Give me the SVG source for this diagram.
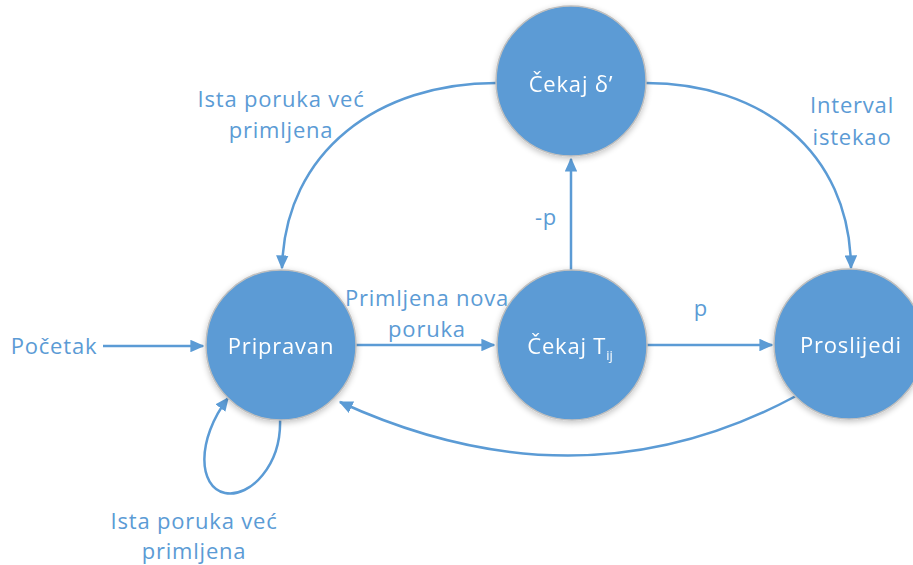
<svg xmlns="http://www.w3.org/2000/svg" width="913" height="565" viewBox="0 0 913 565">
<style>
.node{fill:#5B9BD5;stroke:#BFBFBF;stroke-width:1.5}
.nt{font-family:"Open Sans","Liberation Sans",sans-serif;font-size:22px;letter-spacing:0.8px;fill:#FFFFFF;text-anchor:middle}
.lbl{font-family:"Open Sans","Liberation Sans",sans-serif;font-size:22px;letter-spacing:0.8px;fill:#5B9BD5;text-anchor:middle}
.edge{fill:none;stroke:#5B9BD5;stroke-width:2.5}
</style>
<defs>
<marker id="arr" viewBox="0 0 10 10" refX="9" refY="5" markerWidth="5.6" markerHeight="5" orient="auto" markerUnits="strokeWidth" preserveAspectRatio="none">
<path d="M0,0 L10,5 L0,10 z" fill="#5B9BD5"/>
</marker>
<filter id="sh" x="-20%" y="-20%" width="140%" height="140%">
<feGaussianBlur in="SourceAlpha" stdDeviation="3"/>
<feOffset dx="0" dy="2"/>
<feComponentTransfer><feFuncA type="linear" slope="0.25"/></feComponentTransfer>
<feMerge><feMergeNode/><feMergeNode in="SourceGraphic"/></feMerge>
</filter>
</defs>
<g id="connectors">
<path class="edge" d="M103,346 L203,346" marker-end="url(#arr)"/>
<path class="edge" d="M356,345 L494,345" marker-end="url(#arr)"/>
<path class="edge" d="M647,345 L772,345" marker-end="url(#arr)"/>
<path class="edge" d="M571,270 L571,159" marker-end="url(#arr)"/>
<path class="edge" d="M496,83 C380,83 285,150 282,268" marker-end="url(#arr)"/>
<path class="edge" d="M646,83 C760,83 850,150 851,268" marker-end="url(#arr)"/>
<path class="edge" d="M796,396 Q580,512 340,402" marker-end="url(#arr)"/>
<path class="edge" d="M280,418 C282,465 250,498 225,493 C198,487 196,440 228,398" marker-end="url(#arr)"/>
</g>
<g id="n-cekaj-delta" filter="url(#sh)">
<circle class="node" cx="571" cy="81" r="75"/>
<text class="nt" x="571" y="92">Čekaj δ’</text>
</g>
<g id="n-pripravan" filter="url(#sh)">
<circle class="node" cx="281" cy="345" r="75"/>
<text class="nt" x="281" y="354">Pripravan</text>
</g>
<g id="n-cekaj-t" filter="url(#sh)">
<circle class="node" cx="572" cy="345" r="75"/>
<text class="nt" x="570" y="354">Čekaj T<tspan font-size="13" letter-spacing="0" dy="6">ij</tspan></text>
</g>
<g id="n-proslijedi" filter="url(#sh)">
<circle class="node" cx="849" cy="344" r="75"/>
<text class="nt" x="851" y="353">Proslijedi</text>
</g>
<g id="labels">
<text class="lbl" x="54" y="354">Početak</text>
<text class="lbl" x="427" y="306">Primljena nova</text>
<text class="lbl" x="427" y="337">poruka</text>
<text class="lbl" x="701" y="316">p</text>
<text class="lbl" x="546" y="225">-p</text>
<text class="lbl" x="852" y="113">Interval</text>
<text class="lbl" x="852" y="145">istekao</text>
<text class="lbl" x="281" y="107">Ista poruka već</text>
<text class="lbl" x="281" y="138">primljena</text>
<text class="lbl" x="194" y="529">Ista poruka već</text>
<text class="lbl" x="194" y="559">primljena</text>
</g>
</svg>
